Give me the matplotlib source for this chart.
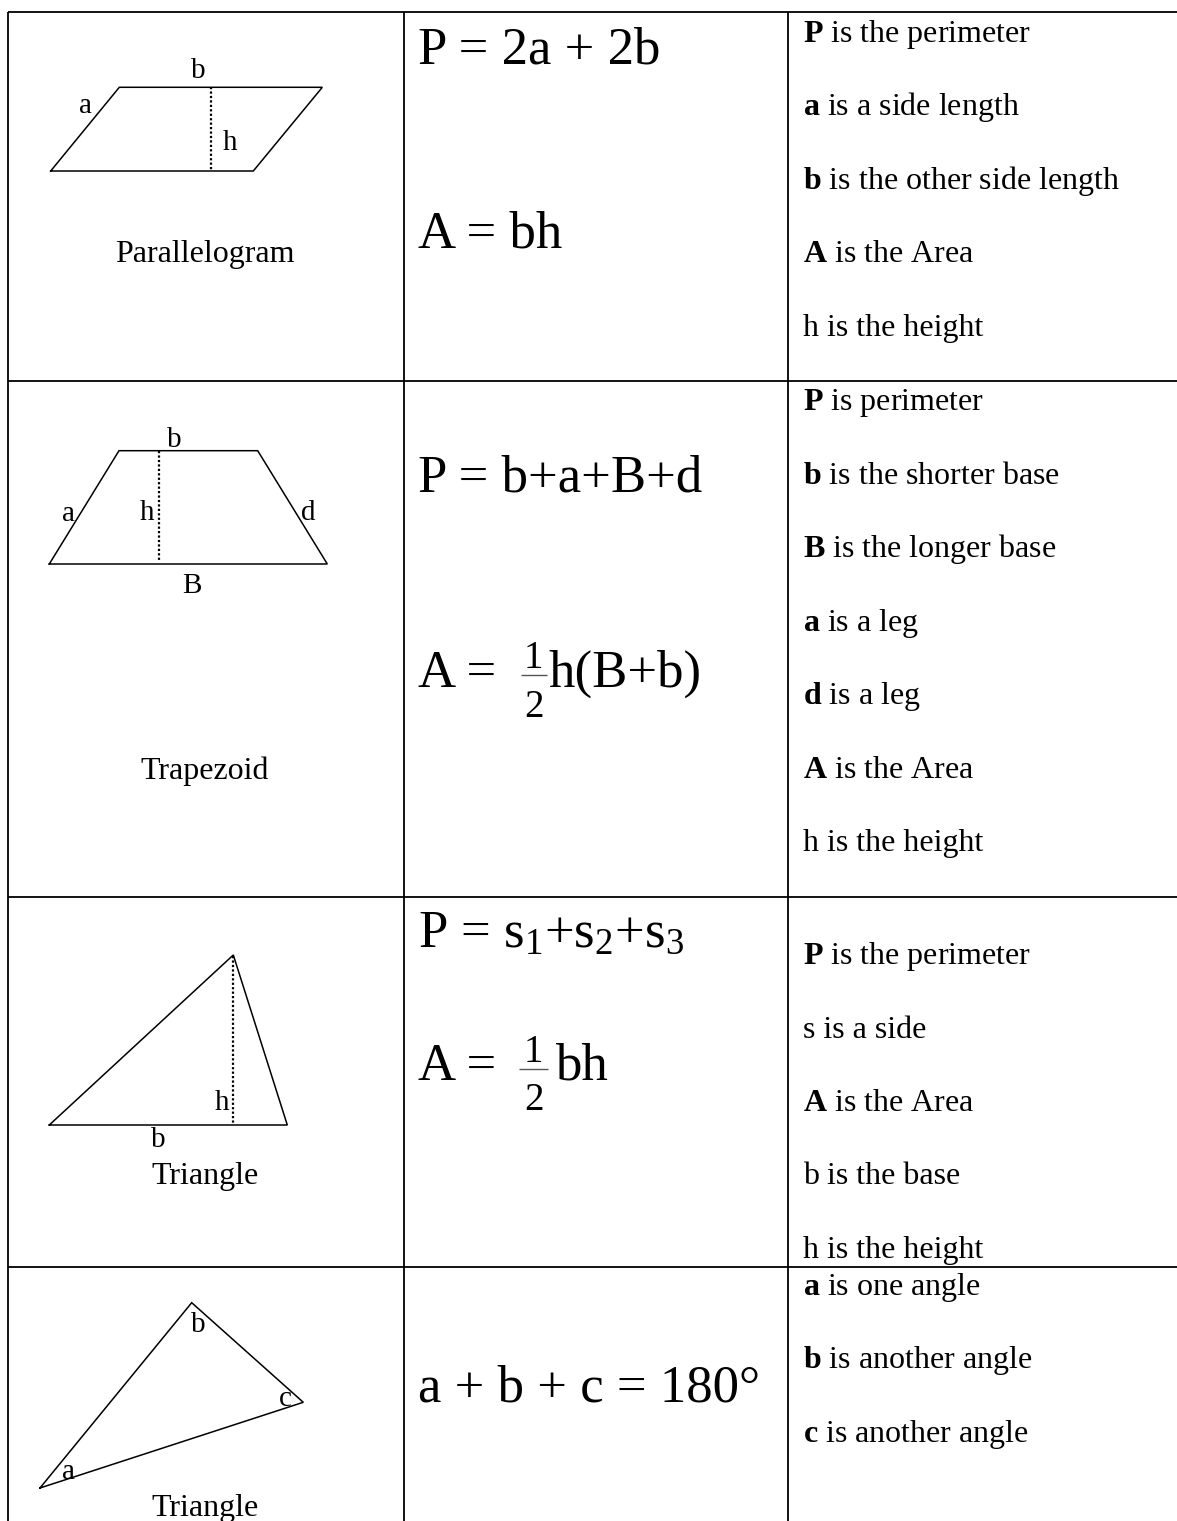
import matplotlib
matplotlib.use("Agg")
import matplotlib.pyplot as plt

plt.rcParams['font.family'] = ['Liberation Serif', 'DejaVu Serif']
plt.rcParams['mathtext.fontset'] = 'custom'
plt.rcParams['mathtext.rm'] = 'Liberation Serif'
plt.rcParams['mathtext.it'] = 'Liberation Serif:italic'
plt.rcParams['mathtext.bf'] = 'Liberation Serif:bold'
plt.rcParams['mathtext.default'] = 'rm'

# ---------------- data ----------------
W, H = 1177, 1521
row_lines_y = [12, 381, 897, 1267]
col_lines_x = [8, 404, 788]

shape_names = ['Parallelogram', 'Trapezoid', 'Triangle', 'Triangle']
shape_name_x = [205, 205, 205, 205]
shape_name_base = [262, 779, 1184, 1516]

# shape outlines (pixel coords)
para_x = [50.7, 119.3, 322.3, 253.3, 50.7]
para_y = [171, 87.3, 87.3, 171, 171]
para_h_x = [210.7, 210.7]
para_h_y = [87.3, 171]

trap_x = [49.3, 119, 257.7, 327.3, 49.3]
trap_y = [564, 450.7, 450.7, 564, 564]
trap_h_x = [159, 159]
trap_h_y = [451, 562]

tri1_x = [49.3, 233.3, 287.3, 49.3]
tri1_y = [1125, 955, 1125, 1125]
tri1_h_x = [233.3, 233.3]
tri1_h_y = [956, 1125]

tri2_x = [40, 191.7, 303.3, 40]
tri2_y = [1488, 1302.7, 1402.3, 1488]

# shape labels: (text, x center, baseline)
shape_labels = [
    ('b', 198.3, 78), ('a', 85, 113), ('h', 230, 150),
    ('b', 174.3, 446.7), ('a', 68.3, 520.7), ('h', 146.7, 520),
    ('d', 308.3, 520), ('B', 191.7, 593.3),
    ('h', 221.7, 1110), ('b', 158.3, 1146.7),
    ('b', 198.3, 1331.7), ('c', 285, 1405.7), ('a', 68.3, 1479.3),
]

# plain formulas
formulas = ['P = 2a + 2b', 'A = bh',
            'P = b+a+B+d',
            r'P = $s_1$+$s_2$+$s_3$',
            'a + b + c = 180°']
formula_base = [64, 247, 491.7, 946.7, 1402]

# formulas with a 1/2 fraction: prefix, numerator, denominator, suffix
frac_pre = ['A = ', 'A = ']
frac_num = ['1', '1']
frac_den = ['2', '2']
frac_post = ['h(B+b)', 'bh']
frac_base = [686.7, 1080]
frac_bar_x0 = [520.7, 519]
frac_bar_x1 = [546.7, 548]
frac_post_x = [548, 555]

desc_bold = ['P', 'a', 'b', 'A', '',
             'P', 'b', 'B', 'a', 'd', 'A', '',
             'P', '', 'A', '', '',
             'a', 'b', 'c']
desc_rest = ['is the perimeter', 'is a side length', 'is the other side length',
             'is the Area', 'h is the height',
             'is perimeter', 'is the shorter base', 'is the longer base',
             'is a leg', 'is a leg', 'is the Area', 'h is the height',
             'is the perimeter', 's is a side', 'is the Area', 'b is the base',
             'h is the height',
             'is one angle', 'is another angle', 'is another angle']
desc_base = [42, 115.5, 189, 262.5, 336,
             410, 483.5, 557, 630.5, 704, 777.5, 851,
             964, 1037.5, 1111, 1184.5, 1258,
             1295, 1368, 1442]

# ---------------- drawing ----------------
fig = plt.figure(figsize=(W / 100, H / 100), dpi=100)
ax = fig.add_axes([0, 0, 1, 1])
ax.set_xlim(0, W)
ax.set_ylim(H, 0)
ax.axis('off')

lw_table = 1.3
for y in row_lines_y:
    ax.plot([col_lines_x[0], W], [y, y], color='black', lw=lw_table,
            solid_capstyle='butt')
for x in col_lines_x:
    ax.plot([x, x], [row_lines_y[0], H], color='black', lw=lw_table,
            solid_capstyle='butt')

lw_shape = 1.1
for xs, ys in [(para_x, para_y), (trap_x, trap_y), (tri1_x, tri1_y), (tri2_x, tri2_y)]:
    ax.plot(xs, ys, color='black', lw=lw_shape, solid_joinstyle='miter')
for xs, ys in [(para_h_x, para_h_y), (trap_h_x, trap_h_y), (tri1_h_x, tri1_h_y)]:
    ax.plot(xs, ys, color='black', lw=1.6, linestyle=(0, (1, 1)))

for t, x, y in shape_labels:
    ax.text(x, y, t, fontsize=21, ha='center', va='baseline')

for t, x, y in zip(shape_names, shape_name_x, shape_name_base):
    ax.text(x, y, t, fontsize=23, ha='center', va='baseline')

for t, y in zip(formulas, formula_base):
    ax.text(418, y, t, fontsize=38, ha='left', va='baseline')

for pre, num, den, post, y, bx0, bx1, px in zip(frac_pre, frac_num, frac_den,
                                                frac_post, frac_base,
                                                frac_bar_x0, frac_bar_x1,
                                                frac_post_x):
    ax.text(418, y, pre, fontsize=38, ha='left', va='baseline')
    cx = (bx0 + bx1) / 2
    ax.text(cx, y - 18.5, num, fontsize=28, ha='center', va='baseline')
    ax.plot([bx0, bx1], [y - 11.5, y - 11.5], color='#555555', lw=1.0,
            solid_capstyle='butt')
    ax.text(cx, y + 30.5, den, fontsize=28, ha='center', va='baseline')
    ax.text(px, y, post, fontsize=38, ha='left', va='baseline')

for b, r, y in zip(desc_bold, desc_rest, desc_base):
    if b:
        s = r'$\mathbf{' + b + '}$ ' + r
    else:
        s = r
    ax.text(803, y, s, fontsize=23, ha='left', va='baseline')

fig.savefig('out.png', dpi=100)
